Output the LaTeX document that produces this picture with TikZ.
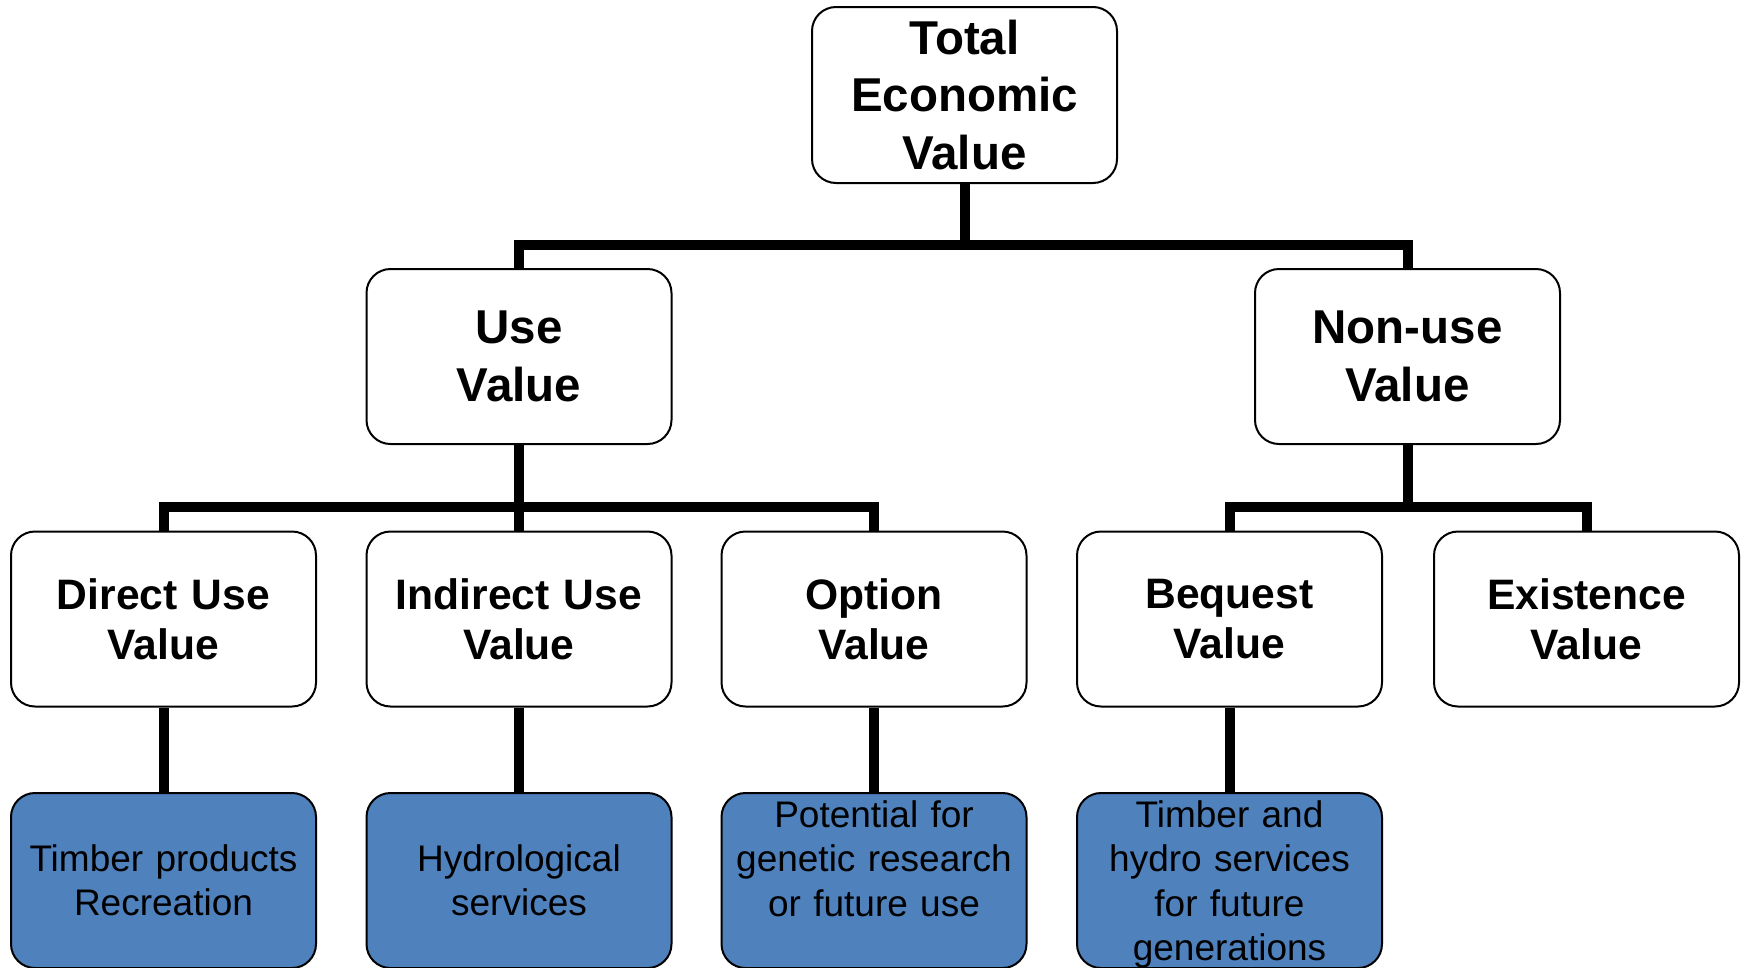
\documentclass[tikz,border=0pt]{standalone}
\usepackage{fontspec}
\setmainfont{Liberation Sans}
\definecolor{leafblue}{RGB}{79,129,189}
\tikzset{
  box/.style={draw=black, line width=2pt, rounded corners=24pt, minimum width=305pt,
    minimum height=175pt, inner sep=0pt, align=center, text width=295pt, fill=white},
  bigbox/.style={box, font=\fontsize{47.5}{57.5}\selectfont\bfseries},
  midbox/.style={box, font=\fontsize{42.6}{50}\selectfont\bfseries},
  leafbox/.style={box, fill=leafblue, font=\fontsize{37}{44.5}\selectfont},
  conn/.style={line width=10pt, line join=miter, line cap=butt}
}
\begin{document}
\begin{tikzpicture}[x=1pt,y=-1pt]
\useasboundingbox (0,0) rectangle (1745,967);
\clip (0,0) rectangle (1745,967);
\fill[white] (0,0) rectangle (1745,967);
\coordinate (bar1) at (964.5,245);
\coordinate (bar2) at (519,507);
\coordinate (bar3) at (1407.5,507);

\node[bigbox, minimum height=176pt] (tev) at (964.5,95) {\rule{0pt}{4pt}Total\\Economic\\Value};
\node[bigbox] (use) at (519,356.5) {\rule{0pt}{4pt}Use\\Value};
\node[bigbox] (nonuse) at (1407.5,356.5) {\rule{0pt}{4pt}Non-use\\Value};

\node[midbox] (direct) at (163.5,619) {Direct Use\\Value};
\node[midbox] (indirect) at (519,619) {Indirect Use\\Value};
\node[midbox] (option) at (874,619) {Option\\Value};
\node[midbox] (bequest) at (1229.5,619) {Bequest\\Value};
\node[midbox] (existence) at (1586.5,619) {Existence\\Value};

\node[leafbox] (l1) at (163.5,880.5) {Timber products\\Recreation};
\node[leafbox] (l2) at (519,880.5) {Hydrological\\services};
\node[leafbox] (l3) at (874,880.5) {Potential for\\genetic research\\or future use\\\mbox{}};
\node[leafbox] (l4) at (1229.5,880.5) {Timber and\\hydro services\\for future\\\raisebox{0pt}[\height][0pt]{generations}};

\draw[conn] (tev.south) -- (bar1) -| (use.north);
\draw[conn] (bar1) -| (nonuse.north);
\draw[conn] (use.south) -- (bar2) -| (direct.north);
\draw[conn] (bar2) -- (indirect.north);
\draw[conn] (bar2) -| (option.north);
\draw[conn] (nonuse.south) -- (bar3) -| (bequest.north);
\draw[conn] (bar3) -| (existence.north);
\draw[conn] (direct.south) -- (l1.north);
\draw[conn] (indirect.south) -- (l2.north);
\draw[conn] (option.south) -- (l3.north);
\draw[conn] (bequest.south) -- (l4.north);
\end{tikzpicture}
\end{document}
